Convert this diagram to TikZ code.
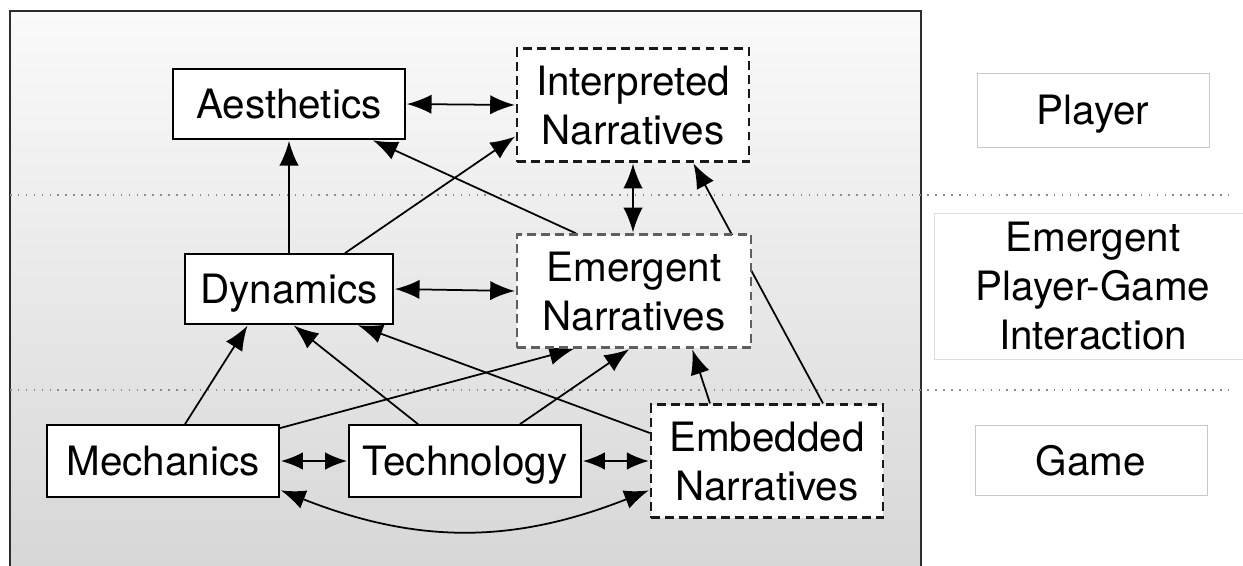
\documentclass[tikz,border=0pt]{standalone}
\usepackage{fontspec}
\setmainfont{TeX Gyre Heros}
\usetikzlibrary{calc,arrows.meta}
\pgfdeclarelayer{back}
\pgfdeclarelayer{edges}
\pgfsetlayers{back,edges,main}
\definecolor{framegray}{RGB}{45,45,45}
\definecolor{dashgray}{RGB}{25,25,25}
\definecolor{softdash}{RGB}{95,95,95}
\definecolor{topshade}{RGB}{250,250,250}
\definecolor{bottomshade}{RGB}{214,214,214}
\definecolor{dotgray}{RGB}{140,140,140}
\definecolor{layergray}{RGB}{200,200,200}

\begin{document}
\begin{tikzpicture}[x=0.2mm,y=-0.2mm,
    font=\fontsize{23}{28}\selectfont,
    box/.style={draw=black,line width=1pt,fill=white,inner sep=0pt,align=center,text depth=0pt},
    dbox/.style={box,draw=dashgray,line width=1.3pt,dash pattern=on 5pt off 3pt},
    layerbox/.style={draw=layergray,line width=0.5pt,fill=white,inner sep=0pt,align=center,text depth=0pt},
    sepline/.style={dotgray,line width=0.8pt,dash pattern=on 0.9pt off 3.6pt},
    arr/.style={line width=1pt,-{Latex[length=14pt,width=11pt]},shorten >=0.6pt},
    darr/.style={line width=1pt,{Latex[length=14pt,width=11pt]}-{Latex[length=14pt,width=11pt]},shorten >=0.6pt,shorten <=0.6pt},
    sarr/.style={line width=1pt,{Latex[length=12.5pt,width=10pt]}-{Latex[length=12.5pt,width=10pt]},shorten >=0.6pt,shorten <=0.6pt}]
  \useasboundingbox (0,0) rectangle (1243,565);
  % frame and layer lines
  \begin{pgfonlayer}{back}
    \draw[framegray,line width=1.1pt,top color=topshade,bottom color=bottomshade] (10,11) rectangle (921,585);
    \draw[sepline] (10,195) -- (1232,195);
    \draw[sepline] (10,390) -- (1232,390);
  \end{pgfonlayer}
  % player
  \node[box,minimum width=4.64cm,minimum height=1.4cm] (aes) at (289,104) {Aesthetics};
  \node[dbox,minimum width=4.64cm,minimum height=2.26cm] (inter) at (633,105) {Interpreted\\Narratives};
  % interaction
  \node[box,minimum width=4.16cm,minimum height=1.4cm] (dyn) at (289,289) {Dynamics};
  \node[dbox,draw=softdash,minimum width=4.68cm,minimum height=2.26cm] (emer) at (634,291) {Emergent\\Narratives};
  % game
  \node[box,minimum width=4.64cm,minimum height=1.44cm] (mech) at (163,461) {Mechanics};
  \node[box,minimum width=4.64cm,minimum height=1.44cm] (tech) at (465,461) {Technology};
  \node[dbox,minimum width=4.64cm,minimum height=2.26cm] (emb) at (767,461) {Embedded\\Narratives};
  % layer names
  \node[layerbox,minimum width=4.64cm,minimum height=1.48cm] (player) at (1093,110) {Player};
  \node[layerbox,draw=layergray!60,minimum width=6.36cm,minimum height=2.92cm] (interact) at (1093,286) {Emergent\\Player-Game\\Interaction};
  \node[layerbox,minimum width=4.64cm,minimum height=1.4cm] (game) at (1091,460) {Game};
  % links
  \begin{pgfonlayer}{edges}
    \draw[darr] (aes.east) -- (inter.west);
    \draw[arr] (dyn.north) -- (aes.south);
    \draw[arr] ($(dyn.north)+(56,0)$) -- ($(inter.west)+(0,31)$);
    \draw[arr] ($(emer.north)+(-58,0)$) -- ($(aes.south)+(83,0)$);
    \draw[darr] (inter.south) -- (inter.south|-emer.north);
    \draw[arr] ($(emb.north)+(56,0)$) -- ($(inter.south)+(60,0)$);
    \draw[darr] (dyn.east) -- (emer.west);
    \draw[arr] ($(mech.north)+(22,0)$) -- ($(dyn.south)+(-41,0)$);
    \draw[arr] ($(tech.north)+(-47,0)$) -- ($(dyn.south)+(4,0)$);
    \draw[arr] ($(emb.west)+(0,-28)$) -- ($(dyn.south)+(68,0)$);
    \draw[arr] ($(mech.north east)+(0,4)$) -- ($(emer.south)+(-59,0)$);
    \draw[arr] ($(tech.north)+(55,0)$) -- ($(emer.south)+(-4,0)$);
    \draw[arr] ($(emb.north)+(-57,0)$) -- ($(emer.south)+(58,0)$);
    \draw[sarr] (mech.east) -- (tech.west);
    \draw[sarr] (tech.east) -- (emb.west);
    \draw[darr] ($(mech.east)+(0,29)$) .. controls +(137,54) and +(-137,54) .. ($(emb.west)+(0,29)$);
  \end{pgfonlayer}
\end{tikzpicture}
\end{document}
